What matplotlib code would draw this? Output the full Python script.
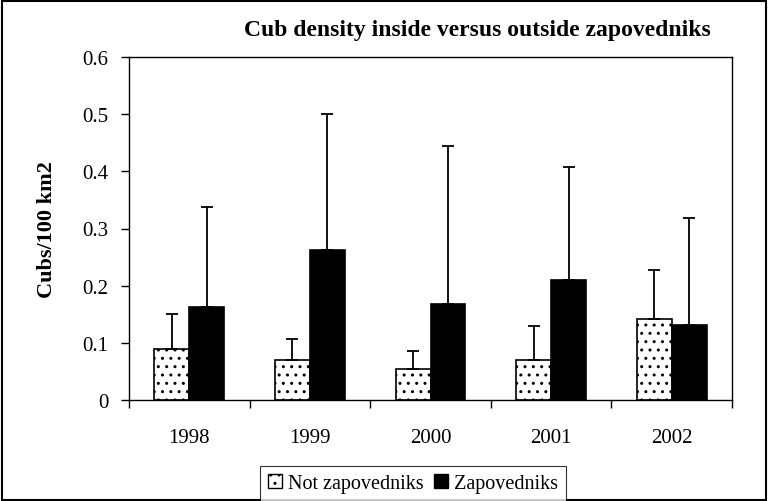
import numpy as np
import matplotlib.pyplot as plt
from matplotlib.patches import Rectangle, Patch

plt.rcParams['font.family'] = ['Liberation Serif', 'DejaVu Serif']
plt.rcParams['hatch.linewidth'] = 1.0
plt.rcParams['hatch.color'] = '#333333'

years = ['1998', '1999', '2000', '2001', '2002']
not_zap = [0.089, 0.070, 0.055, 0.070, 0.142]
not_zap_err = [0.061, 0.037, 0.031, 0.060, 0.086]
zap = [0.163, 0.263, 0.168, 0.210, 0.131]
zap_err = [0.174, 0.237, 0.277, 0.198, 0.187]

fig = plt.figure(figsize=(7.68, 5.02), dpi=100)
# plot area box
ax = fig.add_axes([129 / 768, 1 - 401 / 502, 603 / 768, 343 / 502])

x = np.arange(len(years))
w = 0.29
ax.bar(x - w / 2, not_zap, w, color='white', edgecolor='black', linewidth=1.2,
       hatch='..', label='Not zapovedniks')
ax.bar(x + w / 2, zap, w, color='black', edgecolor='black', linewidth=1.2,
       label='Zapovedniks')
ax.errorbar(x - w / 2, not_zap, yerr=[np.zeros(5), not_zap_err], fmt='none',
            ecolor='black', elinewidth=1.3, capsize=4.5, capthick=1.3)
ax.errorbar(x + w / 2, zap, yerr=[np.zeros(5), zap_err], fmt='none',
            ecolor='black', elinewidth=1.3, capsize=4.5, capthick=1.3)

ax.set_xlim(-0.5, 4.5)
ax.set_ylim(0, 0.6)
ax.set_yticks(np.arange(0, 0.61, 0.1))
ax.set_yticklabels(['0', '0.1', '0.2', '0.3', '0.4', '0.5', '0.6'])
ax.set_xticks(x)
ax.set_xticklabels(years)
ax.set_xticks(np.arange(-0.5, 4.6, 1), minor=True)
ax.tick_params(axis='x', which='major', length=0, pad=20, labelsize=15)
ax.tick_params(axis='x', which='minor', length=6, width=1, direction='out')
ax.tick_params(axis='y', length=6, width=1, direction='out', pad=9, labelsize=15)
for side in ax.spines:
    ax.spines[side].set_linewidth(1)

ax.set_ylabel('Cubs/100 km2', fontsize=16, fontweight='bold', labelpad=18)
fig.text(477 / 768, 1 - 31 / 502, 'Cub density inside versus outside zapovedniks',
         fontsize=17, fontweight='bold', ha='center', va='center')

handles = [Patch(facecolor='white', edgecolor='black', hatch='..'),
           Patch(facecolor='black', edgecolor='black')]
leg = fig.legend(handles, ['Not zapovedniks', 'Zapovedniks'], loc='lower center',
                 bbox_to_anchor=(0.538, -0.02), ncol=2, frameon=True, fancybox=False,
                 edgecolor='black', fontsize=14.5, handlelength=0.7, handleheight=0.7,
                 handletextpad=0.3, columnspacing=0.5, borderpad=0.4)
leg.get_frame().set_linewidth(0.8)

fig.patches.append(Rectangle((0.002, 0.002), 0.996, 0.994, transform=fig.transFigure,
                             fill=False, edgecolor='black', linewidth=1.5))

fig.savefig('out.png', dpi=100)
